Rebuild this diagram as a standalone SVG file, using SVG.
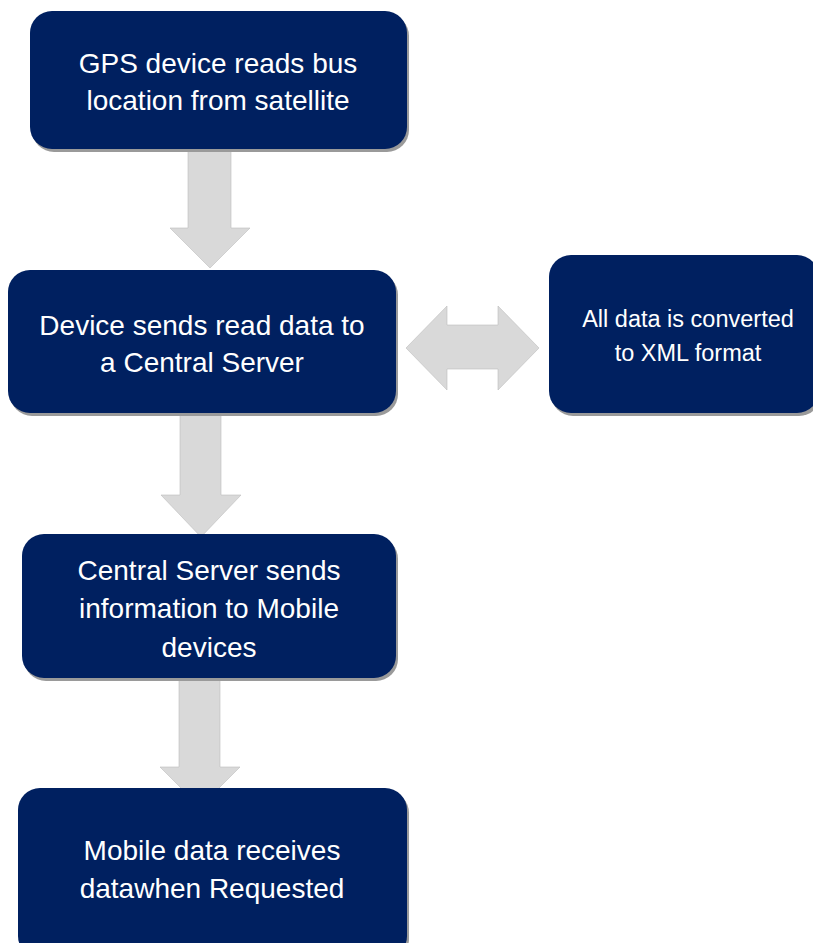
<svg xmlns="http://www.w3.org/2000/svg" width="813" height="943" viewBox="0 0 813 943">
<defs>
<style>
.box{fill:#002060;}
.shadow{fill:#9a9a9a;}
.arrow{fill:#d9d9d9;stroke:#bdbdbd;stroke-width:0.6;}
.t{fill:#ffffff;font-family:"Liberation Sans",Arial,sans-serif;font-size:28px;text-anchor:middle;}
.ts{fill:#ffffff;font-family:"Liberation Sans",Arial,sans-serif;font-size:23.5px;text-anchor:middle;}
</style>
</defs>
<rect width="813" height="943" fill="#ffffff"/>
<g id="connectors">
<polygon class="arrow" points="188,148 231,148 231,228 250,228 210,268 170,228 188,228"/>
<polygon class="arrow" points="180,413 221,413 221,495 241,495 201,537 161,495 180,495"/>
<polygon class="arrow" points="179,678 220,678 220,767 240,767 200,807 160,767 179,767"/>
<polygon class="arrow" points="406,348 447,306 447,325 498,325 498,306 539,348 498,390 498,369 447,369 447,390"/>
</g>
<g id="node1">
<rect class="shadow" x="32" y="14" width="377" height="138" rx="22"/>
<rect class="box" x="30" y="11" width="377" height="138" rx="22"/>
<text class="t" x="218" y="73">GPS device reads bus</text>
<text class="t" x="218" y="110">location from satellite</text>
</g>
<g id="node2">
<rect class="shadow" x="10" y="273" width="388" height="143" rx="22"/>
<rect class="box" x="8" y="270" width="388" height="143" rx="22"/>
<text class="t" x="202" y="335">Device sends read data to</text>
<text class="t" x="202" y="372">a Central Server</text>
</g>
<g id="node3">
<rect class="shadow" x="551" y="258" width="270" height="158" rx="22"/>
<rect class="box" x="549" y="255" width="270" height="158" rx="22"/>
<text class="ts" x="688" y="327">All data is converted</text>
<text class="ts" x="688" y="361">to XML format</text>
</g>
<g id="node4">
<rect class="shadow" x="24" y="537" width="374" height="144" rx="22"/>
<rect class="box" x="22" y="534" width="374" height="144" rx="22"/>
<text class="t" x="209" y="580">Central Server sends</text>
<text class="t" x="209" y="618">information to Mobile</text>
<text class="t" x="209" y="657">devices</text>
</g>
<g id="node5">
<rect class="shadow" x="20" y="791" width="389" height="170" rx="22"/>
<rect class="box" x="18" y="788" width="389" height="170" rx="22"/>
<text class="t" x="212" y="860">Mobile data receives</text>
<text class="t" x="212" y="898">datawhen Requested</text>
</g>
</svg>
